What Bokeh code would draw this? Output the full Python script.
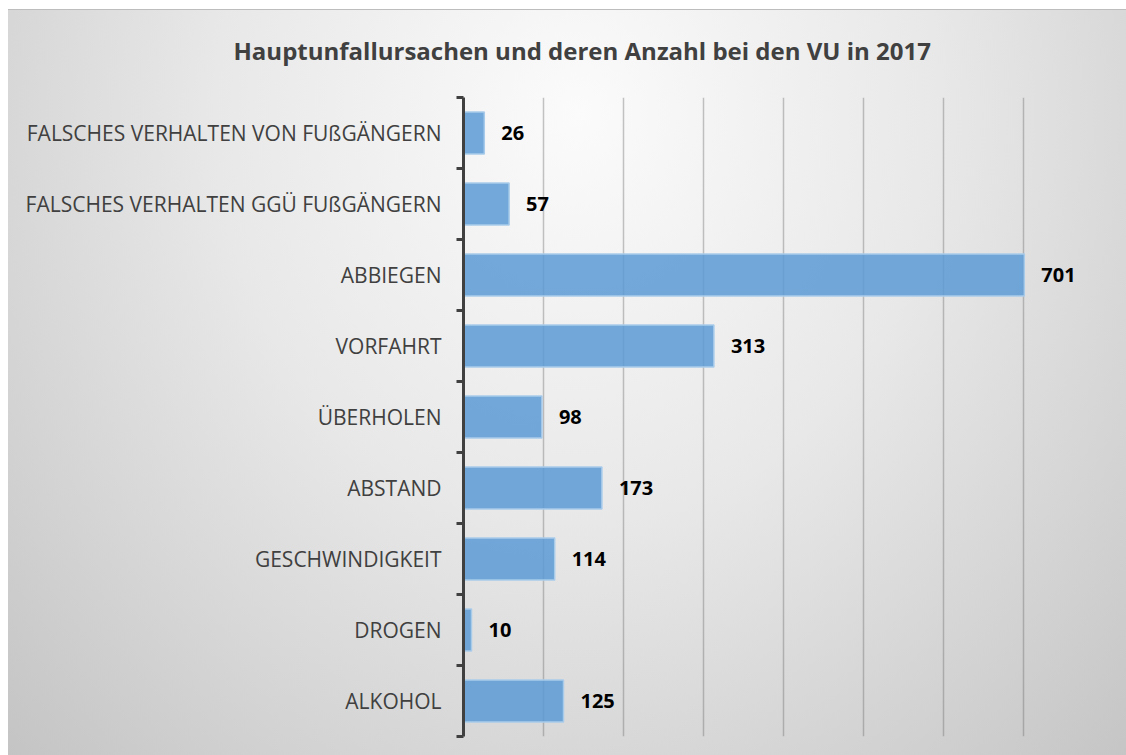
from bokeh.plotting import figure
from bokeh.models import Range1d, FixedTicker, ColumnDataSource, LabelSet
from bokeh.core.properties import value
from bokeh.embed import file_html
from bokeh.resources import INLINE

categories = ["ALKOHOL", "DROGEN", "GESCHWINDIGKEIT", "ABSTAND", "ÜBERHOLEN",
              "VORFAHRT", "ABBIEGEN", "FALSCHES VERHALTEN GGÜ FUßGÄNGERN",
              "FALSCHES VERHALTEN VON FUßGÄNGERN"]
values = [125, 10, 114, 173, 98, 313, 701, 57, 26]
x_ticks = [0, 100, 200, 300, 400, 500, 600, 700, 800]
title_text = "Hauptunfallursachen und deren Anzahl bei den VU in 2017"

n = len(categories)
idx = list(range(n))
W, H = 1126, 755

p = figure(width=W, height=H, output_backend="svg", toolbar_location=None,
           x_range=Range1d(x_ticks[0], x_ticks[-1]), y_range=Range1d(-0.5, n - 0.5),
           min_border_left=463, min_border_right=23, min_border_top=97, min_border_bottom=19)
p.styles = {"background": (
    "linear-gradient(#bdbdbd, #bdbdbd) 8px 9px / 1118px 1px no-repeat, "
    "radial-gradient(ellipse farthest-corner at 51% 14%, #fbfbfb 0%, #e8e8e8 45%, #c4c4c4 100%) "
    "8px 9px / 1118px 746px no-repeat, #ffffff")}
p.border_fill_alpha = 0
p.background_fill_alpha = 0
p.outline_line_color = None

p.title.text = title_text
p.title.align = "left"
p.title.offset = -230
p.title.standoff = 62
p.title.text_font = "Open Sans"
p.title.text_font_style = "bold"
p.title.text_font_size = "24px"
p.title.text_color = "#404040"

src = ColumnDataSource(dict(y=idx, v=values, t=[str(v) for v in values]))

p.xaxis.visible = False
p.xgrid.ticker = FixedTicker(ticks=x_ticks)
p.xgrid.grid_line_color = "#6f6f6f"
p.xgrid.grid_line_alpha = 0.4
p.xgrid.grid_line_width = 1.5
p.ygrid.grid_line_color = None

p.hbar(y="y", right="v", left=0, height=0.59, source=src,
       fill_color="#5b9bd5", fill_alpha=0.85, line_color="#a9cbea", line_width=1.5)

ya = p.yaxis[0]
ya.ticker = FixedTicker(ticks=idx, minor_ticks=[i - 0.5 for i in range(n + 1)])
ya.major_label_overrides = {i: c for i, c in zip(idx, categories)}
ya.major_tick_line_color = None
ya.major_tick_out = 0
ya.major_tick_in = 0
ya.minor_tick_line_color = "#404040"
ya.minor_tick_line_width = 3
ya.minor_tick_out = 7
ya.minor_tick_in = 0
ya.axis_line_color = "#404040"
ya.axis_line_width = 3
ya.major_label_standoff = 15
ya.major_label_text_font = "Open Sans"
ya.major_label_text_font_size = "21px"
ya.major_label_text_color = "#404040"

labels = LabelSet(x="v", y="y", text="t", source=src, x_offset=17,
                  text_baseline="middle", text_align="left",
                  text_font=value("Open Sans"), text_font_style="bold",
                  text_font_size=value("20px"), text_color="#000000")
p.add_layout(labels)

open("out.html", "w").write(file_html(p, INLINE))
